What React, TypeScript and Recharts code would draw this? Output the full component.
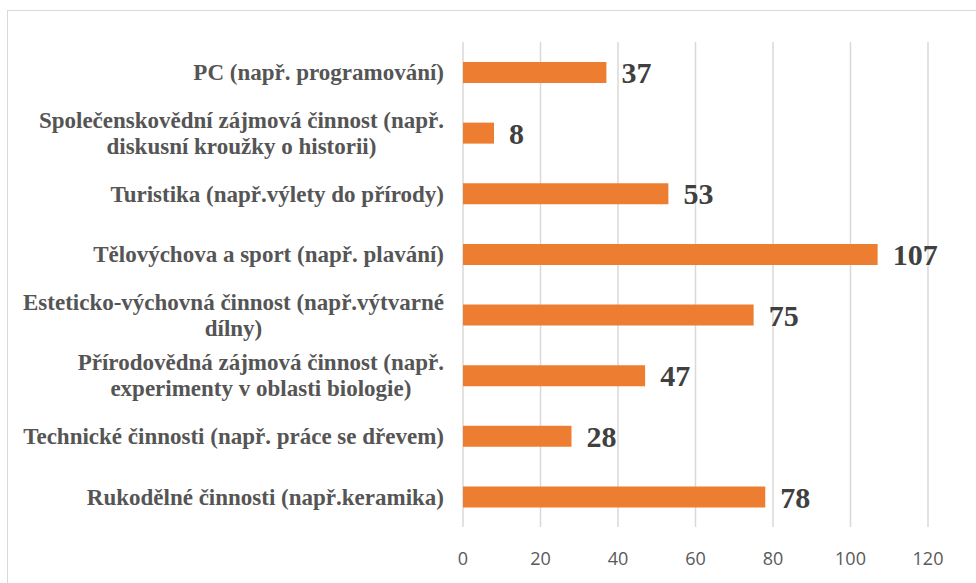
import { BarChart, Bar, XAxis, YAxis, CartesianGrid, LabelList } from "recharts";

// ---------------------------------------------------------------------------
// Data
// ---------------------------------------------------------------------------

const CATEGORIES = [
	"PC (např. programování)",
	"Společenskovědní zájmová činnost (např.\ndiskusní kroužky o historii)",
	"Turistika (např.výlety do přírody)",
	"Tělovýchova a sport (např. plavání)",
	"Esteticko-výchovná činnost (např.výtvarné\ndílny)",
	"Přírodovědná zájmová činnost (např.\nexperimenty v oblasti biologie)",
	"Technické činnosti (např. práce se dřevem)",
	"Rukodělné činnosti (např.keramika)",
];

const COUNTS = [37, 8, 53, 107, 75, 47, 28, 78];

const X_TICKS = [0, 20, 40, 60, 80, 100, 120];

const data = CATEGORIES.map((name, i) => ({ name, count: COUNTS[i] }));

// ---------------------------------------------------------------------------
// Ticks
// ---------------------------------------------------------------------------

const LABEL_COLOR = "#555555";
const VALUE_COLOR = "#404040";
const SERIF = "'Liberation Serif', 'Times New Roman', serif";
const CAT_FONT_SIZE = 23;

let ctx: CanvasRenderingContext2D | null = null;
function textWidth(s: string) {
	if (!ctx) ctx = document.createElement("canvas").getContext("2d");
	if (!ctx) return s.length * 10;
	ctx.font = `bold ${CAT_FONT_SIZE}px ${SERIF}`;
	return ctx.measureText(s).width;
}

// multi-line labels: block is right aligned, lines centred inside it (like Excel)
function CategoryTick(props: any) {
	const { x, y, payload } = props;
	const lines = String(payload.value).split("\n");
	const lh = 26;
	const startDy = -((lines.length - 1) * lh) / 2;
	const multi = lines.length > 1;
	const blockW = multi ? Math.max(...lines.map(textWidth)) : 0;
	const cx = multi ? x - blockW / 2 : x;
	return (
		<text
			x={cx}
			y={y}
			textAnchor={multi ? "middle" : "end"}
			fill={LABEL_COLOR}
			fontFamily={SERIF}
			fontWeight="bold"
			fontSize={CAT_FONT_SIZE}
			dominantBaseline="central"
		>
			{lines.map((l, i) => (
				<tspan key={i} x={cx} dy={i === 0 ? startDy : lh}>
					{l}
				</tspan>
			))}
		</text>
	);
}

// ---------------------------------------------------------------------------
// Component
// ---------------------------------------------------------------------------

export default function App() {
	return (
		<div style={{ position: "absolute", left: 0, top: 0, width: 976, height: 583, background: "#fff", overflow: "hidden" }}>
			<div
				style={{
					position: "absolute",
					left: 7,
					top: 10,
					width: 1000,
					height: 600,
					border: "1px solid #d9d9d9",
				}}
			/>
			<BarChart
				width={976}
				height={583}
				data={data}
				layout="vertical"
				margin={{ top: 42, right: 48, left: 0, bottom: 0 }}
				style={{ position: "absolute", left: 0, top: 0 }}
			>
				<CartesianGrid horizontal={false} stroke="#d9d9d9" strokeWidth={1.5} />
				<XAxis
					type="number"
					domain={[0, 120]}
					ticks={X_TICKS}
					axisLine={false}
					tickLine={false}
					height={56}
					tickMargin={19}
					tick={{ fill: "#595959", fontSize: 18, fontFamily: "'Open Sans', sans-serif" }}
				/>
				<YAxis
					type="category"
					dataKey="name"
					width={463}
					axisLine={false}
					tickLine={false}
					tickMargin={13}
					tick={<CategoryTick />}
				/>
				<Bar dataKey="count" fill="#ED7D31" barSize={21} isAnimationActive={false}>
					<LabelList
						dataKey="count"
						position="right"
						offset={15}
						fill={VALUE_COLOR}
						fontFamily={SERIF}
						fontWeight="bold"
						fontSize={30}
					/>
				</Bar>
			</BarChart>
		</div>
	);
}
